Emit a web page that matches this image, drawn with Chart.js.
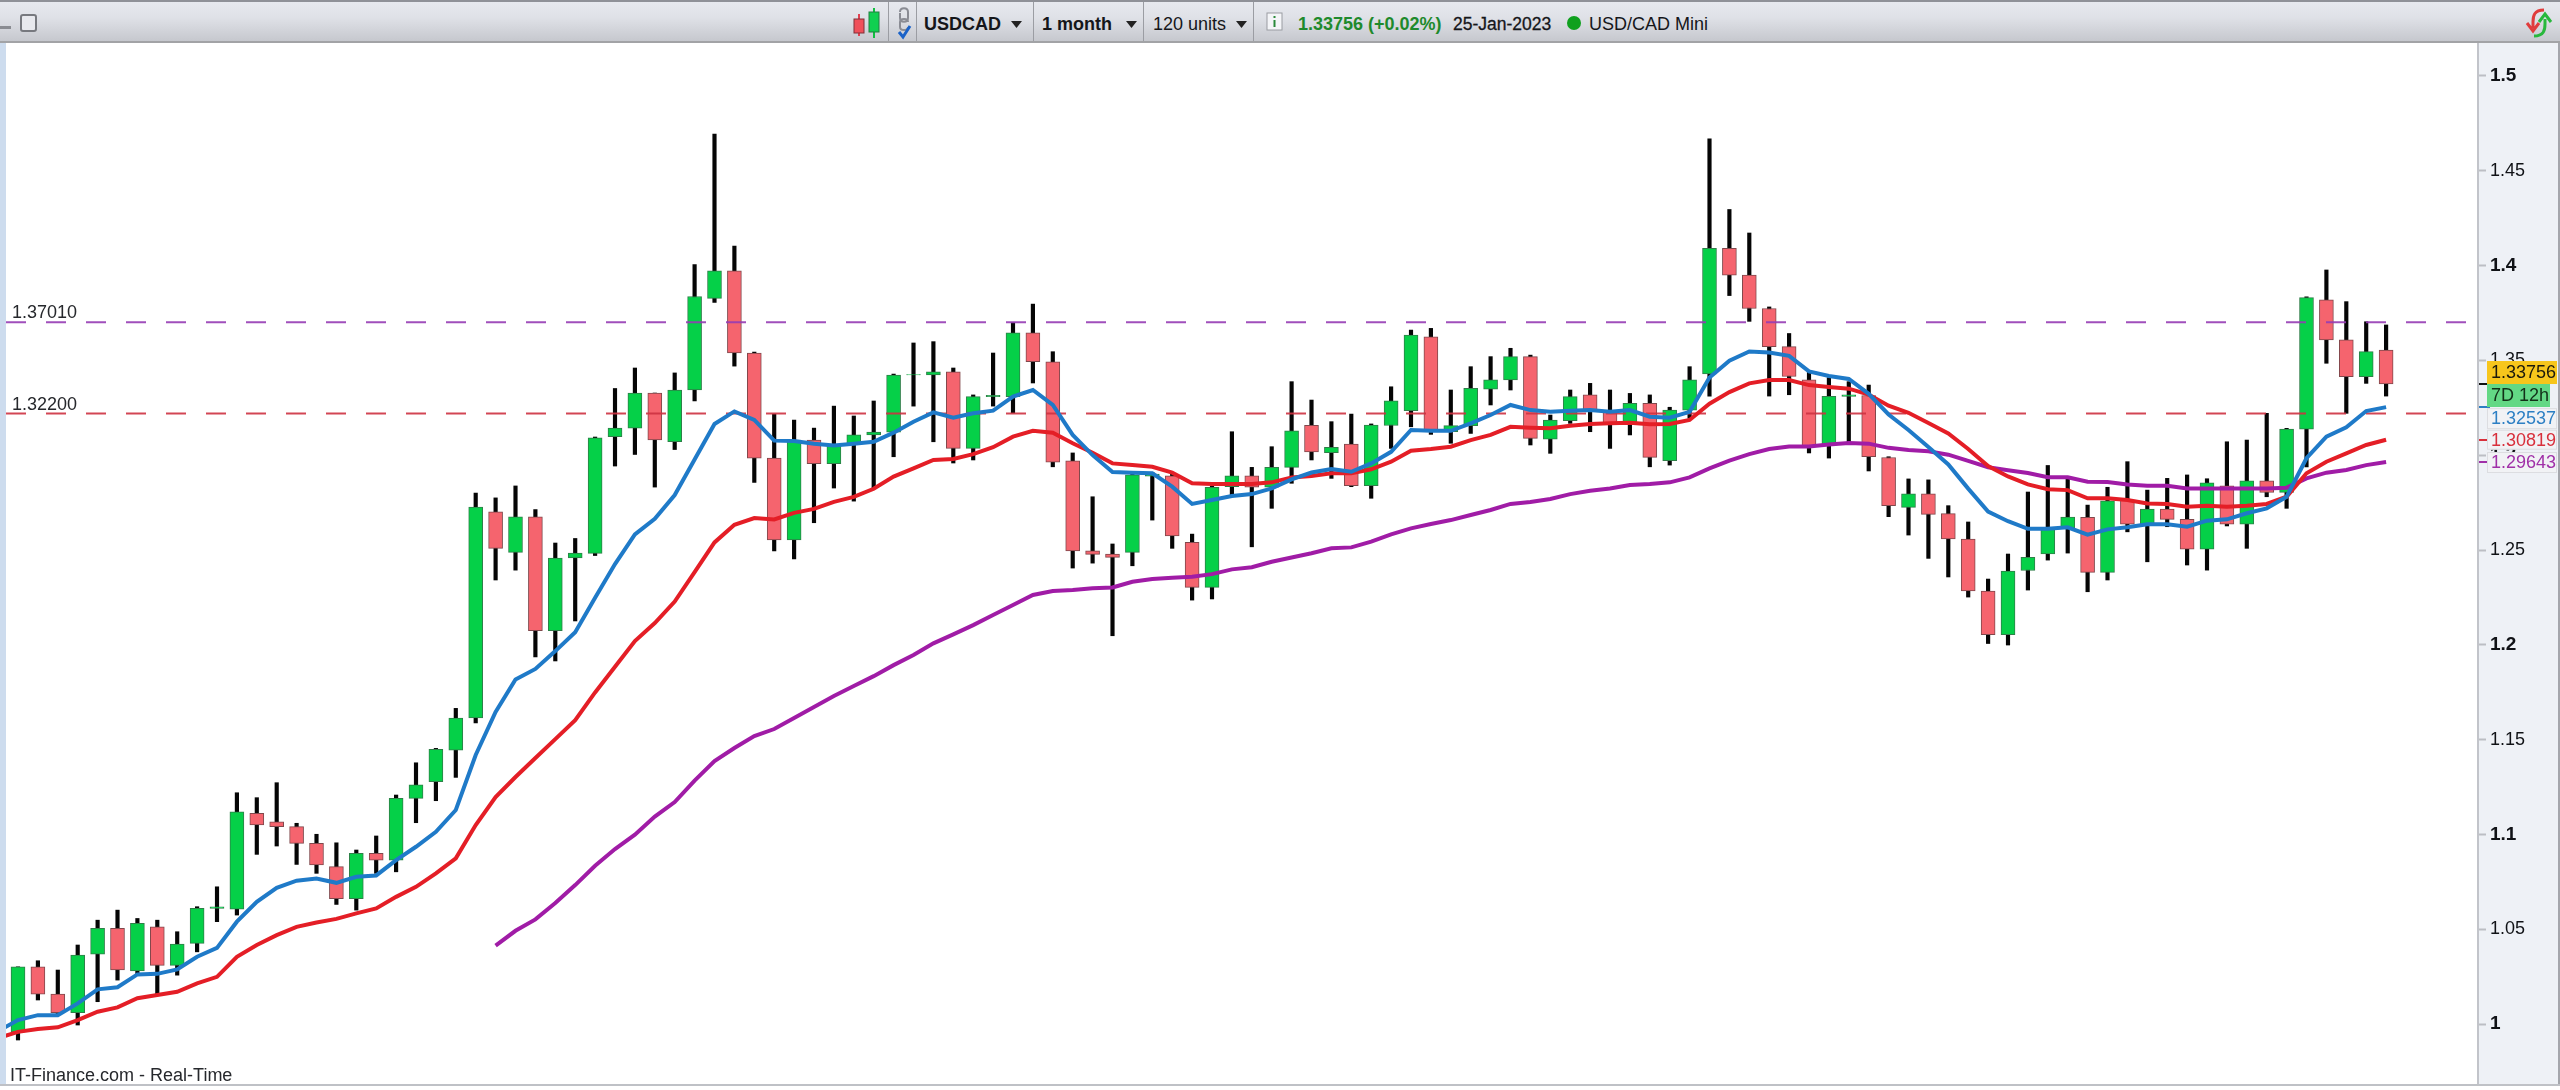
<!DOCTYPE html>
<html>
<head>
<meta charset="utf-8">
<title>USDCAD 1 month</title>
<script src="https://cdn.jsdelivr.net/npm/chart.js@4"></script>
<style>
html,body{margin:0;padding:0;background:#fff;width:2560px;height:1090px;overflow:hidden;font-family:"Liberation Sans",Arial,sans-serif;}
#wrap{position:relative;width:2560px;height:1090px;}
canvas{position:absolute;left:0;top:0;}
#head{position:absolute;left:0;top:0;width:2560px;height:43px;box-sizing:border-box;border-top:2px solid #8f9198;border-bottom:2px solid #a2a3a6;background:linear-gradient(#e7e9ef,#dfe1e7 40%,#c6c8ce);}
#head span{position:absolute;top:12px;font-size:18px;line-height:20px;white-space:nowrap;color:#15161a;}
#head i{position:absolute;top:0;height:39px;width:1px;background:#9b9da3;}
#head svg{position:absolute;}
.b{font-weight:bold;}
</style>
</head>
<body>
<div id="wrap">
<canvas id="c" width="2560" height="1090"></canvas>
<div id="head">
<svg style="left:0;top:9px" width="40" height="24"><rect x="0" y="15" width="11" height="3" fill="#8a8c92"/><rect x="21" y="4" width="15" height="16" rx="2" fill="#e8e9ee" stroke="#77797f" stroke-width="2"/></svg>
<svg style="left:852px;top:6px" width="30" height="32"><path d="M7 6V28" stroke="#e04050" stroke-width="2"/><rect x="2" y="11" width="10" height="14" fill="#f0505a" stroke="#803038"/><path d="M22 0V30" stroke="#10c040" stroke-width="2"/><rect x="17" y="4" width="10" height="20" fill="#10d050" stroke="#208040"/></svg>
<svg style="left:895px;top:5px" width="18" height="34"><path d="M5 5c0-5 8-5 8 0v6c0 5-8 5-8 0v-5M13 15c0-4-8-4-8 0v5c0 4 8 4 8 0" fill="none" stroke="#8a8c94" stroke-width="2"/><path d="M4 25l4 5 7-11" fill="none" stroke="#1a62c8" stroke-width="3"/></svg>
<i style="left:888px"></i><i style="left:916px"></i><i style="left:1033px"></i><i style="left:1143px"></i><i style="left:1253px"></i>
<span class="b" style="left:924px">USDCAD</span>
<svg style="left:1011px;top:19px" width="12" height="8"><path d="M0 0H11L5.500 7Z" fill="#222"/></svg>
<span class="b" style="left:1042px">1 month</span>
<svg style="left:1126px;top:19px" width="12" height="8"><path d="M0 0H11L5.500 7Z" fill="#222"/></svg>
<span style="left:1153px">120 units</span>
<svg style="left:1236px;top:19px" width="12" height="8"><path d="M0 0H11L5.500 7Z" fill="#222"/></svg>
<svg style="left:1266px;top:10px" width="18" height="20"><rect x="1" y="1" width="15" height="17" fill="#f4f5f8" stroke="#9a9ca2"/><rect x="7.500" y="8" width="2" height="7" fill="#2a8a3a"/><rect x="7.500" y="4" width="2" height="2" fill="#2a8a3a"/></svg>
<span class="b" style="left:1298px;color:#1e8a2c">1.33756 (+0.02%)</span>
<span style="left:1453px;font-size:17.500px;-webkit-text-stroke:.3px #15161a">25-Jan-2023</span>
<svg style="left:1566px;top:13px" width="16" height="16"><circle cx="8" cy="8" r="7" fill="#0fa01e"/></svg>
<span style="left:1589px">USD/CAD Mini</span>
<svg style="left:2524px;top:6px" width="30" height="30"><path d="M20 2C10 2 9 8 9 14v6M3 15l6 8 6-8" fill="none" stroke="#e03c3c" stroke-width="3"/><path d="M10 28c10 0 11-6 11-12v-5M15 14l6-8 6 8" fill="none" stroke="#28b83c" stroke-width="3"/></svg>
</div>
</div>
<script>
const yTicks = [1, 1.05, 1.1, 1.15, 1.2, 1.25, 1.3, 1.35, 1.4, 1.45, 1.5];
const hLevels = [1.3701, 1.322];
const hLevelLabels = ['1.37010', '1.32200'];

const opens = [
.9959,1.0302,1.0158,1.0060,1.0369,1.0505,1.0281,1.0513,1.0310,1.0426,
1.0610,1.0606,1.1111,1.1067,1.1041,1.0953,1.0830,1.0661,1.0900,1.0865,
1.1190,1.1278,1.1445,1.1614,1.2702,1.2488,1.2675,1.2075,1.2458,1.2482,
1.3098,1.3143,1.3328,1.3071,1.3344,1.3827,1.3972,1.3539,1.2985,1.2553,
1.3080,1.2956,1.3056,1.3107,1.3122,1.3423,1.3423,1.3440,1.3036,1.3309,
1.3309,1.3645,1.3493,1.2971,1.2496,1.2479,1.2488,1.2890,1.2892,1.2541,
1.2303,1.2834,1.2892,1.2831,1.2936,1.3158,1.3013,1.3059,1.2839,1.3157,
1.3235,1.3625,1.3124,1.3156,1.3349,1.3397,1.3520,1.3085,1.3182,1.3318,
1.3229,1.3177,1.3274,1.2971,1.3238,1.3429,1.4091,1.3950,1.3774,1.3573,
1.3397,1.3057,1.3310,1.3315,1.2988,1.2725,1.2797,1.2692,1.2558,1.2284,
1.2054,1.2392,1.2479,1.2616,1.2672,1.2382,1.2764,1.2632,1.2716,1.2662,
1.2504,1.2839,1.2637,1.2865,1.2804,1.3138,1.3819,1.3608,1.3414,1.3555];

const highs = [
1.0302,1.0334,1.0285,1.0417,1.0548,1.0601,1.0557,1.0548,1.0487,1.0619,
1.0724,1.1220,1.1194,1.1273,1.1059,1.1001,1.0956,1.0918,1.0992,1.1208,
1.1378,1.1454,1.1665,1.2801,1.2775,1.2838,1.2713,1.2537,1.2561,1.3096,
1.3352,1.3460,1.3328,1.3434,1.4006,1.4694,1.4103,1.3544,1.3217,1.3186,
1.3143,1.3259,1.3207,1.3286,1.3428,1.3592,1.3599,1.3460,1.3318,1.3539,
1.3699,1.3797,1.3546,1.3012,1.2781,1.2532,1.2906,1.2908,1.2908,1.2584,
1.2838,1.3124,1.2936,1.3045,1.3388,1.3291,1.3177,1.3217,1.3165,1.3361,
1.3660,1.3669,1.3344,1.3467,1.3520,1.3564,1.3528,1.3212,1.3344,1.3379,
1.3344,1.3326,1.3318,1.3253,1.3467,1.4668,1.4296,1.4172,1.3782,1.3642,
1.3442,1.3409,1.3388,1.3370,1.2992,1.2875,1.2870,1.2734,1.2648,1.2347,
1.2479,1.2806,1.2946,1.2888,1.2737,1.2831,1.2966,1.2816,1.2878,1.2896,
1.2876,1.3071,1.3080,1.3221,1.3142,1.3836,1.3977,1.3810,1.3704,1.3687];

const lows = [
.9916,1.0127,1.0047,.9995,1.0118,1.0232,1.0258,1.0158,1.0258,1.0381,
1.0540,1.0575,1.0895,1.0939,1.0842,1.0795,1.0631,1.0601,1.0795,1.0803,
1.1062,1.1178,1.1301,1.1588,1.2342,1.2394,1.1936,1.1915,1.2126,1.2471,
1.2943,1.3004,1.2832,1.3030,1.3286,1.3806,1.3470,1.2857,1.2495,1.2453,
1.2644,1.2827,1.2758,1.2827,1.2992,1.3259,1.3071,1.2959,1.2975,1.3259,
1.3223,1.3381,1.2939,1.2405,1.2431,1.2048,1.2417,1.2658,1.2509,1.2236,
1.2242,1.2790,1.2517,1.2720,1.2852,1.2975,1.2878,1.2834,1.2773,1.3036,
1.3150,1.3110,1.3063,1.3115,1.3265,1.3344,1.3054,1.3010,1.3168,1.3124,
1.3036,1.3107,1.2939,1.2948,1.3195,1.3312,1.3842,1.3706,1.3312,1.3319,
1.3012,1.2985,1.3070,1.2917,1.2676,1.2579,1.2456,1.2358,1.2252,1.2007,
1.1999,1.2289,1.2447,1.2484,1.2280,1.2342,1.2596,1.2438,1.2623,1.2421,
1.2394,1.2627,1.2509,1.2781,1.2720,1.2939,1.3485,1.3221,1.3379,1.3312];

const closes = [
1.0302,1.0158,1.0060,1.0364,1.0505,1.0285,1.0531,1.0310,1.0422,1.0610,
1.0619,1.1120,1.1050,1.1041,1.0953,1.0839,1.0661,1.0900,1.0865,1.1190,
1.1262,1.1449,1.1614,1.2727,1.2509,1.2675,1.2075,1.2458,1.2484,1.3092,
1.3143,1.3328,1.3081,1.3344,1.3837,1.3972,1.3539,1.2985,1.2553,1.3080,
1.2956,1.3056,1.3107,1.3122,1.3423,1.3425,1.3440,1.3036,1.3309,1.3316,
1.3645,1.3493,1.2963,1.2496,1.2477,1.2461,1.2896,1.2901,1.2575,1.2303,
1.2831,1.2892,1.2831,1.2936,1.3129,1.3017,1.3042,1.2839,1.3159,1.3287,
1.3634,1.3129,1.3156,1.3353,1.3397,1.3520,1.3089,1.3186,1.3309,1.3238,
1.3165,1.3274,1.2989,1.3238,1.3397,1.4091,1.3950,1.3774,1.3573,1.3415,
1.3046,1.3310,1.3318,1.2992,1.2734,1.2797,1.2688,1.2558,1.2284,1.2054,
1.2389,1.2461,1.2612,1.2674,1.2382,1.2760,1.2637,1.2716,1.2662,1.2504,
1.2855,1.2637,1.2865,1.2804,1.3138,1.3831,1.3608,1.3414,1.3546,1.33756];

/* the two short averages carry one earlier bar (index -1), cut off by the left edge */
const blueMA = [
.9963,1.0021,1.0047,1.0047,1.0109,1.0183,1.0194,1.0262,1.0265,1.0288,1.0355,
1.0402,1.0540,1.0645,1.0719,1.0756,1.0768,1.0745,1.0777,1.0784,1.0865,
1.0935,1.1014,1.1129,1.1419,1.1646,1.1817,1.1873,1.1967,1.2067,1.2248,
1.2426,1.2582,1.2665,1.2790,1.2977,1.3165,1.3231,1.3186,1.3077,1.3075,
1.3061,1.3052,1.3061,1.3071,1.3119,1.3177,1.3226,1.3198,1.3221,1.3235,
1.3309,1.3344,1.3265,1.3107,1.3001,1.2911,1.2908,1.2905,1.2834,1.2743,
1.2764,1.2785,1.2795,1.2825,1.2873,1.2909,1.2927,1.2913,1.2957,1.3018,
1.3133,1.3129,1.3129,1.3168,1.3212,1.3265,1.3238,1.3229,1.3235,1.3238,
1.3229,1.3238,1.3203,1.3198,1.3229,1.3410,1.3499,1.3547,1.3542,1.3524,
1.3442,1.3418,1.3402,1.3324,1.3215,1.3133,1.3043,1.2951,1.2824,1.2703,
1.2652,1.2612,1.2612,1.2620,1.2581,1.2609,1.2620,1.2636,1.2636,1.2623,
1.2655,1.2662,1.2694,1.2720,1.2781,1.2984,1.3098,1.3147,1.3233,1.32537];

const redMA = [
.9926,.9959,.9974,.9983,1.0021,1.0065,1.0088,1.0136,1.0153,1.0170,1.0215,
1.0249,1.0355,1.0417,1.0469,1.0513,1.0536,1.0555,1.0584,1.0610,1.0671,
1.0724,1.0795,1.0874,1.1050,1.1197,1.1303,1.1403,1.1503,1.1603,1.1749,
1.1884,1.2020,1.2115,1.2228,1.2384,1.2540,1.2633,1.2669,1.2661,1.2696,
1.2717,1.2754,1.2780,1.2823,1.2887,1.2931,1.2975,1.2980,1.3006,1.3042,
1.3098,1.3129,1.3119,1.3063,1.3013,1.2957,1.2948,1.2939,1.2908,1.2852,
1.2848,1.2848,1.2848,1.2857,1.2883,1.2891,1.2905,1.2905,1.2926,1.2966,
1.3024,1.3033,1.3045,1.3080,1.3107,1.3150,1.3145,1.3142,1.3156,1.3165,
1.3168,1.3171,1.3163,1.3165,1.3186,1.3272,1.3333,1.3379,1.3397,1.3397,
1.3370,1.3360,1.3351,1.3320,1.3261,1.3224,1.3170,1.3115,1.3033,1.2943,
1.2888,1.2846,1.2821,1.2816,1.2773,1.2773,1.2764,1.2746,1.2743,1.2728,
1.2734,1.2728,1.2734,1.2743,1.2781,1.2905,1.2966,1.3010,1.3054,1.30819];

const purpleStart = 24;
const purpleMA = [
1.0414,1.0492,1.0552,1.0638,1.0733,1.0835,
1.0923,1.0999,1.1094,1.1171,1.1284,1.1387,1.1456,1.1519,1.1556,1.1614,
1.1672,1.1730,1.1783,1.1835,1.1893,1.1946,1.2008,1.2055,1.2104,1.2157,
1.2210,1.2263,1.2284,1.2289,1.2298,1.2303,1.2333,1.2347,1.2354,1.2359,
1.2373,1.2398,1.2409,1.2438,1.2461,1.2483,1.2509,1.2514,1.2544,1.2583,
1.2614,1.2637,1.2658,1.2685,1.2711,1.2743,1.2753,1.2769,1.2795,1.2813,
1.2825,1.2843,1.2848,1.2857,1.2883,1.2931,1.2972,1.3006,1.3033,1.3046,
1.3046,1.3057,1.3064,1.3061,1.3039,1.3028,1.3021,1.3003,1.2970,1.2937,
1.2921,1.2906,1.2884,1.2884,1.2860,1.2859,1.2846,1.2839,1.2839,1.2825,
1.2825,1.2825,1.2825,1.2825,1.2829,1.2878,1.2908,1.2922,1.2948,1.29643];

const axisTags = [
  {text:'1.33756', value:1.33756, tick:'#111'},
  {text:'1.32537', value:1.32537, tick:'#2c7fc4'},
  {text:'1.30819', value:1.30819, tick:'#d8303c'},
  {text:'1.29643', value:1.29643, tick:'#a030a8'}
];

const X_MIN = -0.603, X_MAX = 123.618;
const Y_MIN = 0.9684, Y_MAX = 1.5174;
const GREEN = '#05d048', GREEN_EDGE = '#2f7f49', RED = '#f5646e', RED_EDGE = '#80484c';
const isUp = i => closes[i] >= opens[i];

const body = opens.map((o,i)=>({x:i, y:[o, closes[i]]}));
const wick = opens.map((o,i)=>({x:i, y:[lows[i], highs[i]]}));
const toLine = (arr,start)=>arr.map((v,i)=>({x:i+start, y:v}));

const LF = '"Liberation Sans", Arial, sans-serif';
const isMajor = v => Math.abs(v*10-Math.round(v*10))<1e-6;

const panelPlugin = {
  id:'panels',
  beforeDraw(chart){
    const {ctx, chartArea:a, width} = chart;
    ctx.save();
    ctx.fillStyle='#eef1f6';
    ctx.fillRect(a.right, a.top, width-a.right, a.bottom-a.top);
    ctx.fillStyle='#cddcee';
    ctx.fillRect(0, a.top, a.left, a.bottom-a.top);
    ctx.fillStyle='#a4a6ac';
    ctx.fillRect(width-2, a.top, 2, a.bottom-a.top);
    ctx.restore();
  },
  afterDraw(chart){
    const {ctx, chartArea:a, width, scales} = chart;
    const py = v => scales.y.getPixelForValue(v);
    ctx.save();
    /* bottom rule */
    ctx.fillStyle='#bfc1c6';
    ctx.fillRect(0, a.bottom, width, 2);
    ctx.fillStyle='#26282c';
    ctx.font='18px '+LF;
    ctx.textBaseline='alphabetic';
    ctx.textAlign='left';
    ctx.fillText('IT-Finance.com - Real-Time', 10, a.bottom-3);
    hLevelLabels.forEach((t,i)=>ctx.fillText(t, 12, py(hLevels[i])-4));

    /* coloured ticks of the last values */
    axisTags.forEach(t=>{
      ctx.fillStyle=t.tick;
      ctx.fillRect(a.right+1, Math.round(py(t.value))-1, 11, 2);
    });
    /* value boxes */
    const left=a.right+9;
    const box=(x,y,w,h,bg,edge)=>{ctx.fillStyle=bg;ctx.fillRect(x,y,w,h);if(edge){ctx.strokeStyle=edge;ctx.lineWidth=1;ctx.strokeRect(x+.5,y+.5,w-1,h-1);}};
    const p0=py(axisTags[0].value);
    box(left,p0-23,70,23,'#f7c61c');
    box(left,p0,63,23,'#63d885');
    box(left,py(axisTags[1].value)+1,70,21,'#f1f2f5','#dcdde1');
    box(left,py(axisTags[2].value)-10,70,20,'#f1f2f5','#dcdde1');
    box(left,py(axisTags[3].value)-10,70,21,'#f1f2f5','#dcdde1');
    ctx.font='18px '+LF;
    ctx.textBaseline='middle';
    ctx.fillStyle='#1c1a0c'; ctx.fillText(axisTags[0].text,left+4,p0-11);
    ctx.fillStyle='#123018'; ctx.fillText('7D 12h',left+4,p0+12);
    ctx.fillStyle='#2c7fc4'; ctx.fillText(axisTags[1].text,left+4,py(axisTags[1].value)+12);
    ctx.fillStyle='#d8303c'; ctx.fillText(axisTags[2].text,left+4,py(axisTags[2].value)+1);
    ctx.fillStyle='#a030a8'; ctx.fillText(axisTags[3].text,left+4,py(axisTags[3].value)+1);
    ctx.restore();
  }
};

new Chart(document.getElementById('c'),{
  data:{
    datasets:[
      {type:'line',label:'MA short',data:toLine(blueMA,-1),borderColor:'#1f7ac8',borderWidth:4,pointRadius:0,tension:0,order:1},
      {type:'line',label:'MA medium',data:toLine(redMA,-1),borderColor:'#e41e26',borderWidth:4,pointRadius:0,tension:0,order:2},
      {type:'line',label:'MA long',data:toLine(purpleMA,purpleStart),borderColor:'#a01ca6',borderWidth:4,pointRadius:0,tension:0,order:3},
      {type:'line',label:hLevelLabels[0],data:[{x:X_MIN,y:hLevels[0]},{x:X_MAX,y:hLevels[0]}],borderColor:'rgba(150,60,180,.9)',borderWidth:2,borderDash:[20,20],pointRadius:0,order:4},
      {type:'line',label:hLevelLabels[1],data:[{x:X_MIN,y:hLevels[1]},{x:X_MAX,y:hLevels[1]}],borderColor:'rgba(205,50,65,.9)',borderWidth:2,borderDash:[20,20],pointRadius:0,order:4},
      {type:'bar',label:'body',data:body,grouped:false,barThickness:14,borderWidth:1,borderSkipped:false,
        backgroundColor:opens.map((o,i)=>isUp(i)?GREEN:RED),borderColor:opens.map((o,i)=>isUp(i)?GREEN_EDGE:RED_EDGE),order:5},
      {type:'bar',label:'wick',data:wick,grouped:false,barThickness:3.5,borderWidth:0,backgroundColor:'#050505',order:6}
    ]
  },
  options:{
    responsive:false,
    animation:false,
    events:[],
    layout:{padding:{left:6,top:43,right:0,bottom:6}},
    plugins:{legend:{display:false},tooltip:{enabled:false}},
    scales:{
      x:{type:'linear',display:false,min:X_MIN,max:X_MAX,offset:false,grid:{display:false}},
      y:{
        type:'linear',position:'right',min:Y_MIN,max:Y_MAX,
        afterFit(s){s.width=82;s.paddingTop=0;s.paddingBottom=0;},
        afterBuildTicks(s){s.ticks=yTicks.map(v=>({value:v}));},
        grid:{drawOnChartArea:false,drawTicks:true,tickLength:8,tickColor:'#bcbec4',tickWidth:2},
        border:{display:true,color:'#c2c4ca',width:2},
        ticks:{padding:4,color:'#101216',
          font:c=>({family:LF,size:c.tick&&isMajor(c.tick.value)?19:18,weight:c.tick&&isMajor(c.tick.value)?'bold':'normal'}),
          autoSkip:false,maxRotation:0,
          callback:v=>String(+(+v).toFixed(2))}
      }
    }
  },
  plugins:[panelPlugin]
});
</script>
</body>
</html>
